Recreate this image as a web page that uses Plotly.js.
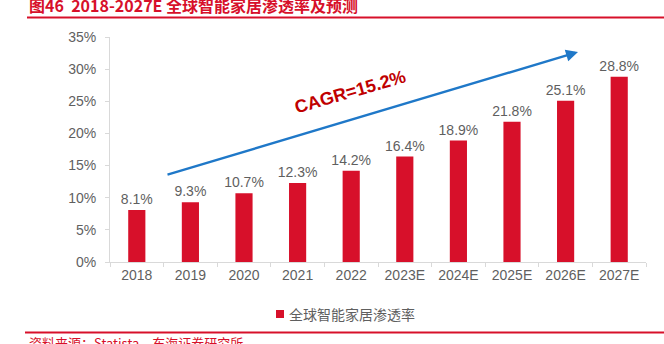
<!DOCTYPE html>
<html><head><meta charset="utf-8">
<script src="https://cdn.plot.ly/plotly-3.0.1.min.js"></script>
<style>html,body{margin:0;padding:0;background:#fff}#c{width:664px;height:344px}</style>
</head><body><div id="c"></div>
<script>
const categories = ["2018","2019","2020","2021","2022","2023E","2024E","2025E","2026E","2027E"];
const penetration = [8.1, 9.3, 10.7, 12.3, 14.2, 16.4, 18.9, 21.8, 25.1, 28.8];
const yTicks = [0,5,10,15,20,25,30,35];
const seriesName = "全球智能家居渗透率";
const titleText = "图46  2018-2027E 全球智能家居渗透率及预测";
const sourceText = "资料来源：Statista，东海证券研究所";
const cagrText = "CAGR=15.2%";

const W = 664, H = 344, L = 110, R = 18, T = 37, B = 82;
const ph = H - T - B, pw = W - L - R;
const py = p => (H - B - p) / ph;   // pixel y -> paper
const px = p => (p - L) / pw;       // pixel x -> paper

const font = "Liberation Sans, Arial, Noto Sans CJK SC, sans-serif";
const cjk = "Noto Sans CJK SC, Liberation Sans, sans-serif";
const gray = "#5f5f5f";

const trace = {
  type: "bar", x: categories, y: penetration, name: seriesName,
  marker: {color: "#d7102a"}, width: 0.32,
  text: penetration.map(v => v.toFixed(1) + "%"), textposition: "outside",
  constraintext: "none",
  textfont: {family: font, size: 14, color: gray}, cliponaxis: false,
  showlegend: false
};

const layout = {
  width: W, height: H, margin: {l: L, r: R, t: T, b: B},
  paper_bgcolor: "#fff", plot_bgcolor: "#fff",
  font: {family: font, color: gray, size: 14},
  xaxis: {type: "category", showline: true, linecolor: "#d9d9d9", linewidth: 1,
          ticks: "outside", tickson: "boundaries", ticklen: 4, tickcolor: "#d9d9d9",
          ticklabelstandoff: 0, tickfont: {family: font, size: 14, color: gray}},
  yaxis: {range: [0, 35], tickvals: yTicks, ticktext: yTicks.map(v => v + "%"),
          showgrid: false, zeroline: false, showline: true, linecolor: "#d9d9d9",
          ticks: "outside", ticklen: 4, tickcolor: "#d9d9d9", ticklabelstandoff: 6,
          tickfont: {family: font, size: 14, color: gray}},
  showlegend: false,
  bargap: 0.68,
  shapes: [
    {type: "line", xref: "paper", yref: "paper", x0: px(27), x1: px(664), y0: py(17.5), y1: py(17.5),
     line: {color: "#d7102a", width: 2}},
    {type: "line", xref: "paper", yref: "paper", x0: px(25), x1: px(664), y0: py(332.5), y1: py(332.5),
     line: {color: "#d7102a", width: 2}},
    {type: "rect", xref: "paper", yref: "paper", x0: px(276), x1: px(284), y0: py(310), y1: py(318),
     fillcolor: "#d7102a", line: {width: 0}}
  ],
  annotations: [
    {xref: "paper", yref: "paper", x: px(27), y: py(5), xanchor: "left", yanchor: "middle",
     text: "<b>" + titleText + "</b>", showarrow: false,
     font: {family: cjk, size: 16, color: "#d7102a"}},
    {xref: "paper", yref: "paper", x: px(27), y: py(342), xanchor: "left", yanchor: "middle",
     text: sourceText, showarrow: false,
     font: {family: cjk, size: 13, color: "#d7102a"}},
    {xref: "paper", yref: "paper", x: px(287), y: py(314), xanchor: "left", yanchor: "middle",
     text: seriesName, showarrow: false,
     font: {family: cjk, size: 14, color: gray}},
    {xref: "paper", yref: "paper", x: px(578), y: py(52), axref: "pixel", ayref: "pixel",
     ax: -(578 - 166), ay: (175 - 52), showarrow: true, arrowhead: 2, arrowsize: 1,
     arrowwidth: 2.4, arrowcolor: "#1f78c8", text: ""},
    {xref: "paper", yref: "paper", x: px(350), y: py(92), xanchor: "center", yanchor: "middle",
     text: "<b>" + cagrText + "</b>", showarrow: false, textangle: -16,
     font: {family: font, size: 18, color: "#c00000"}}
  ]
};

Plotly.newPlot("c", [trace], layout, {displayModeBar: false, staticPlot: true});
</script></body></html>
